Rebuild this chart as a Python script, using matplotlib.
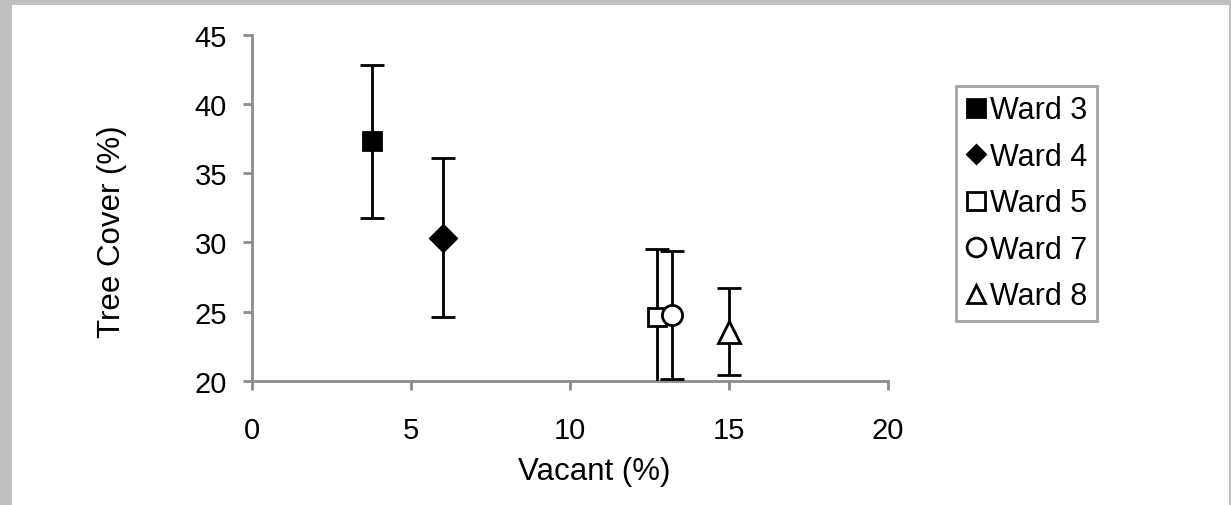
import matplotlib
matplotlib.use('Agg')
import matplotlib.pyplot as plt
from matplotlib.lines import Line2D
from matplotlib.patches import Rectangle

# 数据
wards = ['Ward 3', 'Ward 4', 'Ward 5', 'Ward 7', 'Ward 8']
vacant = [3.77, 6.0, 12.75, 13.23, 15.02]
tree_cover = [37.3, 30.35, 24.6, 24.75, 23.55]
err = [5.55, 5.75, 4.9, 4.65, 3.15]
markers = ['s', 'D', 's', 'o', '^']
facecolors = ['black', 'black', 'white', 'white', 'white']
msizes = [13.5, 13.2, 13.5, 14.5, 16.5]
leg_msizes = [13.5, 9.4, 13.5, 13.5, 13.5]

plt.rcParams['font.family'] = ['Liberation Sans', 'DejaVu Sans']
plt.rcParams['font.size'] = 21

fig = plt.figure(figsize=(12.31, 5.06), dpi=100, facecolor='#c0c0c0')
# 白色面板（四周留灰边）
fig.patches.append(Rectangle((12 / 1231, 0), 1217 / 1231, 500 / 506,
                             transform=fig.transFigure, facecolor='white',
                             edgecolor='none', zorder=-5))

ax = fig.add_axes([251.7 / 1231, 1 - 381.7 / 506, 636 / 1231, 345.7 / 506])
ax.set_facecolor('none')

handles = []
for i in range(len(wards)):
    ax.errorbar(vacant[i], tree_cover[i], yerr=err[i], fmt=markers[i],
                ms=msizes[i], mfc=facecolors[i], mec='black', mew=2,
                ecolor='black', elinewidth=2, capsize=8.4, capthick=2,
                zorder=3, clip_on=True)
    handles.append(Line2D([], [], linestyle='none', marker=markers[i],
                          ms=leg_msizes[i], mfc=facecolors[i], mec='black',
                          mew=2, label=wards[i]))

ax.set_xlim(0, 20)
ax.set_ylim(20, 45)
ax.set_xticks([0, 5, 10, 15, 20])
ax.set_yticks([20, 25, 30, 35, 40, 45])

for s in ['top', 'right']:
    ax.spines[s].set_visible(False)
for s in ['left', 'bottom']:
    ax.spines[s].set_color('#8c8c8c')
    ax.spines[s].set_linewidth(2)
ax.tick_params(colors='#8c8c8c', width=2, length=6.3, labelcolor='black')
ax.tick_params(axis='x', pad=19)
ax.tick_params(axis='y', pad=11.5)

ax.set_xlabel('Vacant (%)', fontsize=22.5)
ax.set_ylabel('Tree Cover (%)', fontsize=22.5)
ax.xaxis.set_label_coords(0.538, -0.218)
ax.yaxis.set_label_coords(-0.1965, 0.434)

leg = fig.legend(handles=handles, loc='upper left',
                 bbox_to_anchor=(955.7 / 1231, 1 - 87.3 / 506),
                 frameon=True, fancybox=False, handlelength=0.75,
                 handletextpad=0.08, labelspacing=0.54, borderpad=0.3,
                 borderaxespad=0, fontsize=22)
leg.get_frame().set_edgecolor('#8c8c8c')
leg.get_frame().set_linewidth(2)

fig.savefig('out.png', dpi=100, facecolor=fig.get_facecolor())
